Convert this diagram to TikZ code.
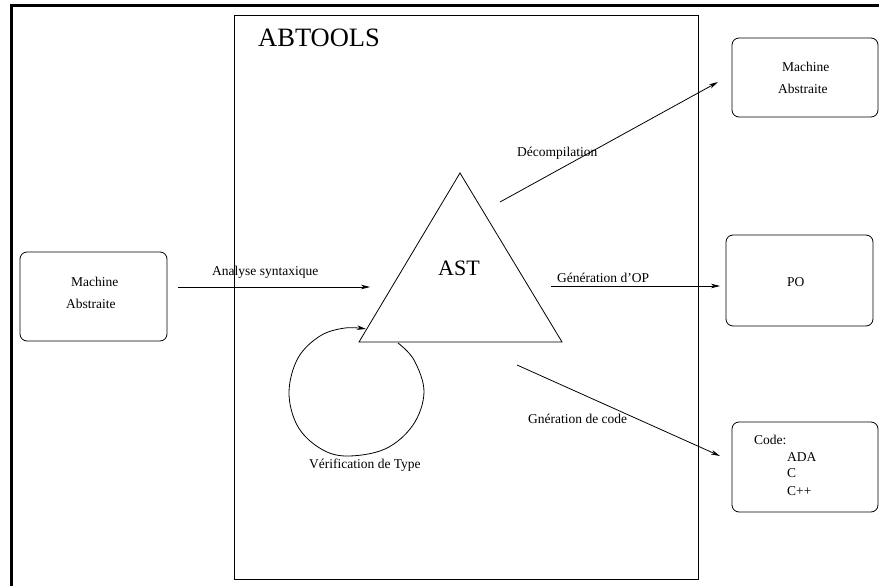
\documentclass[tikz,border=0pt]{standalone}
\usepackage{fontspec}
\setmainfont{Liberation Serif}
\usetikzlibrary{arrows.meta}
\begin{document}
\begin{tikzpicture}[x=1pt,y=-1pt,
  thin line/.style={line width=0.8pt},
  tip/.style={-{Stealth[length=9pt,width=4.5pt,inset=2.5pt]}},
  rbox/.style={draw,thin line,rounded corners=7pt,inner sep=0pt},
  lab/.style={inner sep=0pt,anchor=base west,font=\fontsize{13.5}{16}\selectfont},
  big/.style={inner sep=0pt,anchor=base west,font=\fontsize{26.5}{30}\selectfont},
  mid/.style={inner sep=0pt,anchor=base west,font=\fontsize{22}{26}\selectfont}]
\useasboundingbox (0,0) rectangle (879,586);

% outer frame (top and left edges only)
\draw[line width=3pt] (11,586) -- (11,5.3) -- (879,5.3);

% tool box
\node[draw,thin line,inner sep=0pt,minimum width=464pt,minimum height=564pt] (tool) at (466,297) {};
\node[big] (title) at (258,47) {ABTOOLS};

% side boxes
\node[rbox,minimum width=147pt,minimum height=89pt] (src) at (93.5,296.5) {};
\node[rbox,minimum width=146pt,minimum height=79pt] (dst) at (805,77.5) {};
\node[rbox,minimum width=147pt,minimum height=91pt] (po) at (799.5,280.5) {};
\node[rbox,minimum width=146pt,minimum height=90pt] (code) at (805,467) {};

\node[lab] (srcA) at (71,286) {Machine};
\node[lab] (srcB) at (66,308) {Abstraite};
\node[lab] (dstA) at (782,72) {Machine};
\node[lab] (dstB) at (778,94) {Abstraite};
\node[lab] (poT) at (787,286) {PO};
\node[lab] (codeT) at (754,444) {Code:};
\node[lab] (codeA) at (787,461) {ADA};
\node[lab] (codeB) at (787,477) {C};
\node[lab] (codeC) at (787,495) {C++};

% abstract syntax tree
\coordinate (apex) at (460,173);
\coordinate (bl) at (359,342);
\coordinate (br) at (562,342);
\draw[thin line] (apex) -- (bl) -- (br) -- cycle;
\node[mid] (ast) at (438,275) {AST};

% connector end points
\coordinate (anS) at (178,287);
\coordinate (anE) at (370,287);
\coordinate (deS) at (500,202);
\coordinate (deE) at (718,82);
\coordinate (opS) at (551,286);
\coordinate (opE) at (720,286);
\coordinate (gcS) at (517,365);
\coordinate (gcE) at (720,456);
\coordinate (vtS) at (398,343);
\coordinate (vtE) at (366,329);

\draw[thin line,tip] (anS) -- (anE);
\draw[thin line,tip] (deS) -- (deE);
\draw[thin line,tip] (opS) -- (opE);
\draw[thin line,tip] (gcS) -- (gcE);
\draw[thin line,tip] plot[smooth,tension=0.6] coordinates
  {(vtS) (414,360) (424,392) (413,425) (385,449) (345,456) (318,447) (297,425) (289,392) (298,358) (320,336) (345,328) (vtE)};

\node[lab] (anL) at (212,275) {Analyse syntaxique};
\node[lab] (deL) at (517,156) {Décompilation};
\node[lab] (opL) at (557,282) {Génération d’OP};
\node[lab] (gcL) at (528,423) {Gnération de code};
\node[lab] (vtL) at (309,468) {Vérification de Type};
\end{tikzpicture}
\end{document}
